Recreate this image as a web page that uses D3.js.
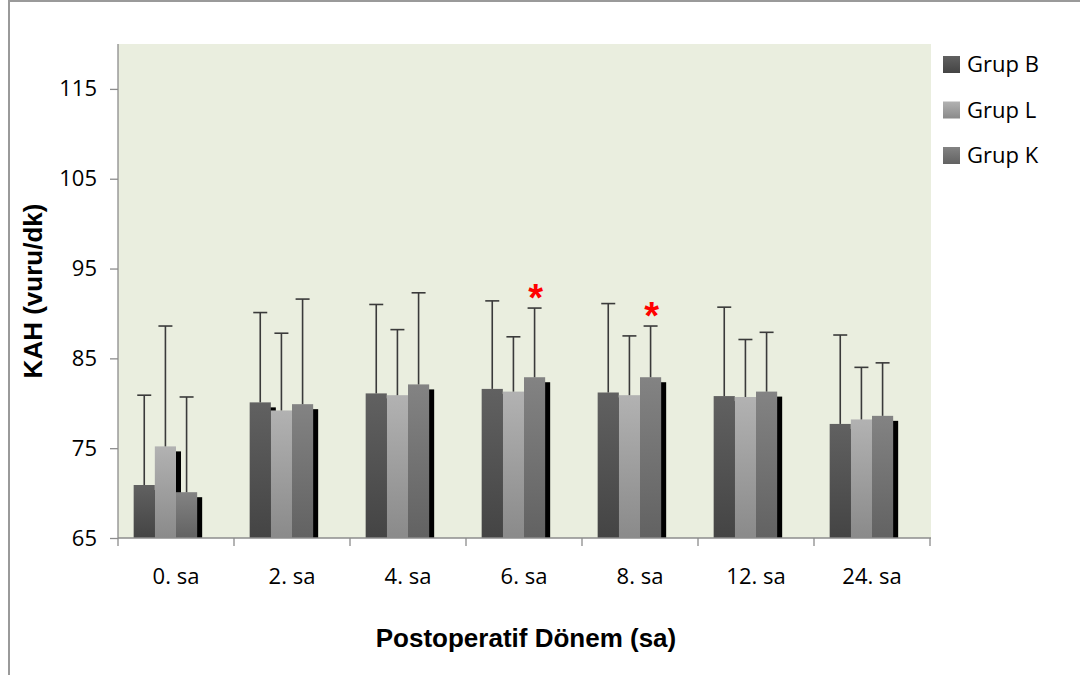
<!DOCTYPE html>
<html><head><meta charset="utf-8">
<script src="https://cdn.jsdelivr.net/npm/d3@7"></script>
<style>html,body{margin:0;padding:0;background:#fff;}svg{display:block;}</style>
</head><body>
<script>
const categories = ["0. sa","2. sa","4. sa","6. sa","8. sa","12. sa","24. sa"];
const seriesNames = ["Grup B","Grup L","Grup K"];
const grupB   = [70.9, 80.1, 81.1, 81.6, 81.2, 80.8, 77.7];
const grupBsd = [10.0, 10.0, 9.9, 9.8, 9.9, 9.9, 9.9];
const grupL   = [75.2, 79.2, 80.9, 81.3, 80.9, 80.7, 78.2];
const grupLsd = [13.4, 8.6, 7.3, 6.1, 6.6, 6.4, 5.8];
const grupK   = [70.1, 79.9, 82.1, 82.9, 82.9, 81.3, 78.6];
const grupKsd = [10.6, 11.7, 10.2, 7.7, 5.7, 6.6, 5.9];
const yTicks = [65, 75, 85, 95, 105, 115];
const significant = ["6. sa", "8. sa"]; // Grup K marked with *

const W = 1080, H = 675;
const m = {left:118, right:150, top:44, bottom:137};
const svg = d3.select("body").append("svg").attr("width", W).attr("height", H);

// outer border
svg.append("rect").attr("x", 9).attr("y", 1).attr("width", W + 20).attr("height", H + 20)
  .attr("fill", "none").attr("stroke", "#9a9a9a").attr("stroke-width", 2);

const x0 = d3.scaleBand().domain(categories).range([m.left, W - m.right]).padding(0);
const x1 = d3.scaleBand().domain([...seriesNames, "_"]).range([0, x0.bandwidth()]).paddingInner(0).paddingOuter(0.74);
const y = d3.scaleLinear().domain([65, 120]).range([H - m.bottom, m.top]);

const defs = svg.append("defs");
const grads = [["gB","#616161","#444444"],["gL","#b2b2b2","#8a8a8a"],["gK","#838383","#626262"]];
grads.forEach(([id,c1,c2]) => {
  const g = defs.append("linearGradient").attr("id", id).attr("x1",0).attr("y1",0).attr("x2",0).attr("y2",1);
  g.append("stop").attr("offset","0%").attr("stop-color", c1);
  g.append("stop").attr("offset","100%").attr("stop-color", c2);
});
const fills = {"Grup B":"url(#gB)","Grup L":"url(#gL)","Grup K":"url(#gK)"};

// plot background
svg.append("rect").attr("x", m.left).attr("y", m.top)
  .attr("width", W - m.right - m.left + 1).attr("height", y(65) - m.top)
  .attr("fill", "#eaeedf");

const series = [
  {name:"Grup B", vals:grupB, sd:grupBsd},
  {name:"Grup L", vals:grupL, sd:grupLsd},
  {name:"Grup K", vals:grupK, sd:grupKsd}
];
const data = [];
series.forEach(s => categories.forEach((c,i) => data.push({cat:c, name:s.name, v:s.vals[i], sd:s.sd[i]})));
const bx = d => x0(d.cat) + x1(d.name);
const bw = x1.bandwidth();

// shadows
svg.append("g").selectAll("rect").data(data).join("rect")
  .attr("x", d => bx(d) + 5).attr("y", d => y(d.v) + 5)
  .attr("width", bw).attr("height", d => y(65) - y(d.v) - 5)
  .attr("fill", "#000");
// bars
svg.append("g").selectAll("rect").data(data).join("rect")
  .attr("x", d => bx(d)).attr("y", d => y(d.v))
  .attr("width", bw).attr("height", d => y(65) - y(d.v))
  .attr("fill", d => fills[d.name]);

// error bars
const eg = svg.append("g").attr("stroke", "#3a3a3a").attr("stroke-width", 1.6);
data.forEach(d => {
  const cx = bx(d) + bw / 2;
  eg.append("line").attr("x1", cx).attr("x2", cx).attr("y1", y(d.v)).attr("y2", y(d.v + d.sd));
  eg.append("line").attr("x1", cx - 7).attr("x2", cx + 7).attr("y1", y(d.v + d.sd)).attr("y2", y(d.v + d.sd));
});

// significance asterisks
data.filter(d => d.name === "Grup K" && significant.includes(d.cat)).forEach(d => {
  svg.append("text").attr("x", bx(d) + bw / 2 + 1).attr("y", y(d.v + d.sd) - 19 + 22)
    .attr("text-anchor", "middle").attr("font-family", "Liberation Sans, Arial, sans-serif")
    .attr("font-weight", "bold").attr("font-size", 38).attr("fill", "#ff0000").text("*");
});

// y axis
const yAxis = svg.append("g").attr("transform", `translate(${m.left},0)`)
  .call(d3.axisLeft(y).tickValues(yTicks).tickSize(8).tickPadding(13).tickFormat(d3.format("d")));
yAxis.select(".domain").attr("stroke", "#8c8c8c").attr("stroke-width", 1.3).attr("d", `M0,${y(65)}V${m.top}`);
yAxis.selectAll(".tick line").attr("stroke", "#8c8c8c").attr("stroke-width", 1.3);
yAxis.selectAll(".tick text").attr("font-family", "Open Sans, sans-serif").attr("font-size", 22).attr("fill", "#000");

// x axis
const xAxis = svg.append("g").attr("transform", `translate(0,${y(65)})`)
  .call(d3.axisBottom(x0).tickSize(0).tickPadding(30));
xAxis.select(".domain").attr("stroke", "#8c8c8c").attr("stroke-width", 1.3).attr("d", `M${m.left},0H${W - m.right + 1}`);
xAxis.selectAll(".tick text").attr("font-family", "Open Sans, sans-serif").attr("font-size", 22).attr("fill", "#000");
const bounds = categories.map(c => x0(c)).concat([x0(categories[categories.length-1]) + x0.bandwidth()]);
xAxis.selectAll("line.sep").data(bounds).join("line").attr("class","sep")
  .attr("x1", d => d).attr("x2", d => d).attr("y1", 0).attr("y2", 8)
  .attr("stroke", "#8c8c8c").attr("stroke-width", 1.3);

// axis titles
svg.append("text").attr("x", (m.left + W - m.right) / 2 + 2).attr("y", 647)
  .attr("text-anchor", "middle").attr("font-family", "Liberation Sans, Arial, sans-serif")
  .attr("font-weight", "bold").attr("font-size", 26).text("Postoperatif Dönem (sa)");
svg.append("text").attr("transform", `translate(42,${(m.top + y(65)) / 2}) rotate(-90)`)
  .attr("text-anchor", "middle").attr("font-family", "Liberation Sans, Arial, sans-serif")
  .attr("font-weight", "bold").attr("font-size", 26).text("KAH (vuru/dk)");

// legend
const lg = svg.append("g").attr("transform", "translate(943,56)");
seriesNames.forEach((n, i) => {
  const g = lg.append("g").attr("transform", `translate(0,${i * 45.5})`);
  g.append("rect").attr("width", 17).attr("height", 17).attr("fill", fills[n]);
  g.append("text").attr("x", 24).attr("y", 16).attr("font-family", "Open Sans, sans-serif")
    .attr("font-size", 22).attr("fill", "#000").text(n);
});
</script>
</body></html>
